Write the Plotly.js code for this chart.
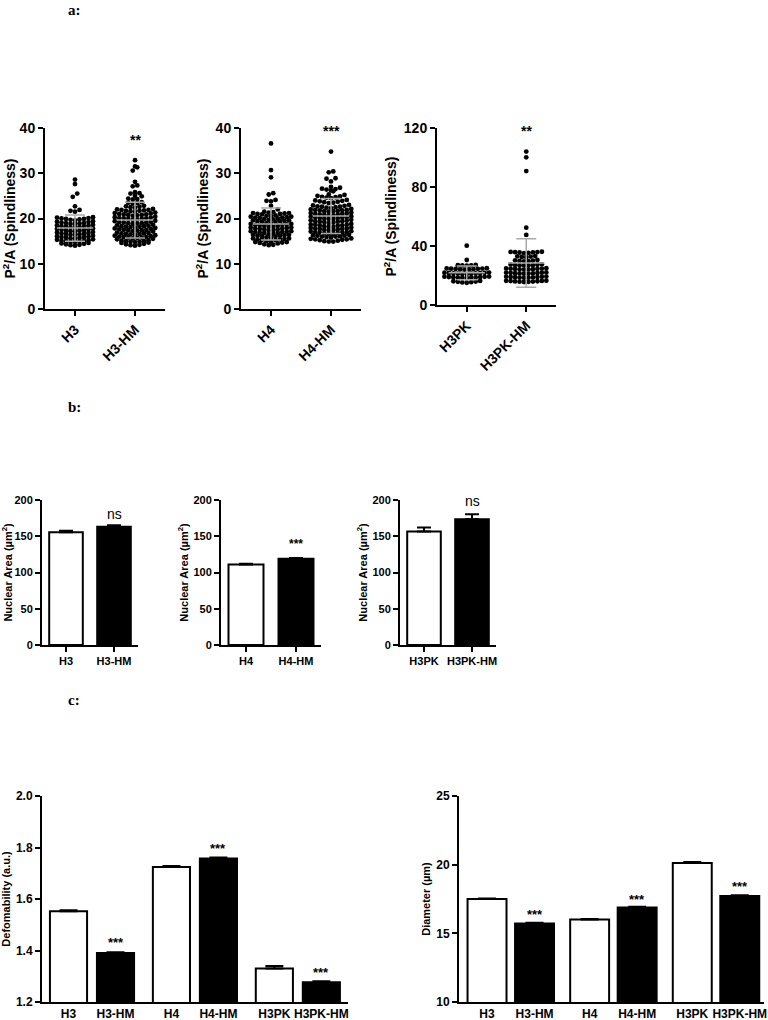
<!DOCTYPE html>
<html>
<head>
<meta charset="utf-8">
<script src="https://cdn.plot.ly/plotly-3.0.1.min.js"></script>
<style>html,body{margin:0;padding:0;background:#fff;}#chart{width:768px;height:1020px;}</style>
</head>
<body>
<div id="chart"></div>
<script>
// ---------------- DATA ----------------
// Panel a: spindliness (P^2/A) per cell
const catA1 = ['H3', 'H3-HM'];
const catA2 = ['H4', 'H4-HM'];
const catA3 = ['H3PK', 'H3PK-HM'];

const spindH3 = [28.6, 27.6, 25.5, 24.8, 22.7, 21.9, 21.7, 21.5,
  20.3, 20.2, 20.1, 20.0, 19.9, 19.9, 19.8, 19.7, 19.6,
  19.4, 19.3, 19.2, 19.1, 19.0, 19.0, 18.9, 18.8, 18.8,
  18.6, 18.5, 18.4, 18.3, 18.2, 18.2, 18.1, 18.0, 18.0,
  17.8, 17.7, 17.6, 17.5, 17.4, 17.4, 17.3, 17.2, 17.2,
  17.0, 16.9, 16.8, 16.7, 16.6, 16.6, 16.5, 16.4, 16.4,
  16.2, 16.1, 16.0, 15.9, 15.8, 15.8, 15.7, 15.6, 15.6,
  15.4, 15.3, 15.2, 15.1, 15.0, 15.0, 14.9, 14.8, 14.8,
  14.6, 14.5, 14.4, 14.3, 14.2, 14.1, 14.0];
const spindH3HM = [32.9, 31.5, 31.3, 30.6, 28.1, 27.3, 27.1, 25.8, 25.6, 25.5, 25.0, 24.9,
  24.4, 24.3, 24.2, 23.6, 23.5, 23.4, 23.3, 22.8, 22.7, 22.6, 22.5, 22.4,
  22.1, 22.0, 21.9, 21.9, 21.8, 21.7, 21.7, 21.6, 21.5,
  21.3, 21.2, 21.1, 21.0, 20.9, 20.9, 20.8, 20.8, 20.7, 20.6,
  20.4, 20.3, 20.2, 20.1, 20.0, 20.0, 19.9, 19.9, 19.8, 19.7,
  19.5, 19.4, 19.3, 19.2, 19.1, 19.1, 19.0, 19.0, 18.9, 18.8,
  18.6, 18.5, 18.4, 18.3, 18.3, 18.2, 18.2, 18.1, 18.0, 17.9,
  17.8, 17.7, 17.6, 17.5, 17.5, 17.4, 17.4, 17.3, 17.2, 17.1,
  16.9, 16.8, 16.7, 16.7, 16.6, 16.6, 16.5, 16.4, 16.3, 16.2,
  16.1, 16.0, 15.9, 15.9, 15.8, 15.8, 15.7, 15.6, 15.5, 15.4,
  15.2, 15.1, 15.0, 15.0, 14.9, 14.9, 14.8, 14.7, 14.6,
  14.4, 14.3, 14.2, 14.1, 14.0];
const spindH4 = [36.6, 30.7, 29.1, 25.6, 25.3, 24.1, 23.9, 23.8, 22.8, 22.0,
  21.5, 21.4, 21.3, 21.2, 21.2, 21.1, 21.0, 21.0, 20.9,
  20.7, 20.6, 20.5, 20.4, 20.4, 20.3, 20.2, 20.2, 20.1, 20.0,
  19.9, 19.8, 19.7, 19.6, 19.6, 19.5, 19.4, 19.4, 19.3, 19.2,
  19.0, 18.9, 18.8, 18.8, 18.7, 18.6, 18.6, 18.5, 18.4, 18.4,
  18.2, 18.1, 18.0, 18.0, 17.9, 17.8, 17.8, 17.7, 17.6, 17.6,
  17.4, 17.3, 17.2, 17.2, 17.1, 17.0, 17.0, 16.9, 16.8, 16.8,
  16.6, 16.5, 16.4, 16.4, 16.3, 16.2, 16.2, 16.1, 16.0,
  15.8, 15.7, 15.6, 15.6, 15.5, 15.4, 15.4, 15.3, 15.2,
  15.0, 14.9, 14.8, 14.8, 14.7, 14.6, 14.5,
  14.3, 14.2, 14.1];
const spindH4HM = [34.8, 30.4, 30.2, 28.9, 28.8, 28.2,
  27.0, 26.8, 26.6, 26.5, 26.4, 26.2, 26.0,
  25.3, 25.2, 25.0, 24.9, 24.8, 24.7, 24.6, 24.5,
  24.1, 24.0, 23.9, 23.8, 23.7, 23.6, 23.5, 23.4,
  23.0, 22.9, 22.8, 22.7, 22.6, 22.6, 22.5, 22.4, 22.3,
  22.1, 22.0, 21.9, 21.9, 21.8, 21.8, 21.7, 21.6, 21.6, 21.5,
  21.3, 21.2, 21.1, 21.0, 21.0, 20.9, 20.9, 20.8, 20.7, 20.7,
  20.5, 20.4, 20.3, 20.2, 20.2, 20.1, 20.1, 20.0, 19.9, 19.9,
  19.7, 19.6, 19.5, 19.4, 19.4, 19.3, 19.3, 19.2, 19.1, 19.0,
  18.8, 18.7, 18.6, 18.6, 18.5, 18.5, 18.4, 18.3, 18.2, 18.2,
  18.0, 17.9, 17.8, 17.8, 17.7, 17.7, 17.6, 17.5, 17.4, 17.4,
  17.2, 17.1, 17.0, 17.0, 16.9, 16.9, 16.8, 16.7, 16.6, 16.6,
  16.4, 16.3, 16.2, 16.2, 16.1, 16.0, 16.0, 15.9, 15.8,
  15.6, 15.5, 15.4, 15.4, 15.3, 15.2, 15.1,
  15.0, 14.9, 14.9];
const spindH3PK = [40.2, 30.5,
  27.2, 27.0, 26.9, 26.8, 26.7,
  24.9, 24.8, 24.7, 24.6, 24.5, 24.4, 24.3, 24.2, 24.1, 24.0,
  22.0, 21.9, 21.8, 21.7, 21.6, 21.5, 21.4, 21.3, 21.2, 21.1, 21.0,
  19.3, 19.2, 19.1, 19.0, 18.9, 18.8, 18.7, 18.6, 18.5, 18.4, 18.3,
  16.3, 16.1, 15.9, 15.7, 15.5, 15.3, 15.1];
const spindH3PKHM = [104.0, 100.1, 90.8, 52.4, 47.5,
  36.1, 36.0, 35.9, 35.8, 35.7, 35.6, 35.4, 35.2,
  33.2, 33.0, 32.8, 32.6, 32.4,
  30.5, 30.3, 30.1, 29.9, 29.7, 29.6,
  27.6, 27.5, 27.3, 27.2, 27.1, 27.0, 26.9, 26.8,
  24.9, 24.8, 24.7, 24.6, 24.5, 24.4, 24.3, 24.2, 24.1, 24.0,
  22.1, 22.0, 21.9, 21.8, 21.7, 21.6, 21.5, 21.4, 21.3, 21.2,
  19.3, 19.2, 19.1, 19.0, 18.9, 18.8, 18.7, 18.6, 18.5, 18.4,
  16.5, 16.4, 16.3, 16.2, 16.1, 16.0, 15.9, 15.8, 15.7, 15.6];
const sigA = ['**', '***', '**'];

// Panel b: nuclear area (µm²), mean and SEM
const catB1 = ['H3', 'H3-HM'];
const catB2 = ['H4', 'H4-HM'];
const catB3 = ['H3PK', 'H3PK-HM'];
const nucB1 = [155.5, 163.0];
const nucErrB1 = [2.2, 2.0];
const nucB2 = [111.0, 119.0];
const nucErrB2 = [1.2, 1.0];
const nucB3 = [156.5, 173.5];
const nucErrB3 = [5.5, 7.0];
const sigB = ['ns', '***', 'ns'];

// Panel c: deformability and diameter
const catC = ['H3', 'H3-HM', 'H4', 'H4-HM', 'H3PK', 'H3PK-HM'];
const deform = [1.552, 1.390, 1.724, 1.757, 1.330, 1.277];
const deformErr = [0.004, 0.003, 0.004, 0.004, 0.010, 0.004];
const diameter = [17.50, 15.72, 16.00, 16.88, 20.12, 17.72];
const diameterErr = [0.04, 0.05, 0.04, 0.06, 0.07, 0.06];
const sigC = ['', '***', '', '***', '', '***'];

// ---------------- HELPERS ----------------
const W = 768, H = 1020;
const dx = (a, b) => [a / W, b / W];
const dy = (t, b) => [1 - b / H, 1 - t / H];
const FONT = 'Arial, "Liberation Sans", Helvetica, sans-serif';
const bold = (size) => ({family: FONT, size: size, color: '#000', weight: 'bold'});

function swarm(vals, center, pxPerY, pxPerX, rowPx, dotPx) {
  const s = vals.slice().sort((a, b) => a - b);
  const rowU = rowPx / pxPerY;
  const rows = []; let cur = null;
  s.forEach(v => {
    if (!cur || v - cur.start >= rowU) { cur = {start: v, vals: []}; rows.push(cur); }
    cur.vals.push(v);
  });
  const xs = [], ys = [];
  rows.forEach(r => {
    const n = r.vals.length, offs = [];
    for (let k = 0; k < n; k++) offs.push(k - (n - 1) / 2);
    offs.sort((a, b) => Math.abs(a) - Math.abs(b) || a - b);
    r.vals.forEach((v, i) => { xs.push(center + offs[i] * dotPx / pxPerX); ys.push(v); });
  });
  return {xs, ys};
}
const mean = a => a.reduce((s, v) => s + v, 0) / a.length;
const sd = a => { const m = mean(a); return Math.sqrt(a.reduce((s, v) => s + (v - m) * (v - m), 0) / (a.length - 1)); };

const axBase = {showline: true, linecolor: '#000', linewidth: 2, ticks: 'outside', ticklen: 5, tickwidth: 2,
  tickcolor: '#000', showgrid: false, zeroline: false, fixedrange: true, automargin: false};

const traces = [];
const annotations = [];

// ---------------- PANEL A ----------------
const aPanels = [
  {cats: catA1, data: [spindH3, spindH3HM], xa: 'x', ya: 'y', pxPerY: 181 / 40, sigY: 37.3},
  {cats: catA2, data: [spindH4, spindH4HM], xa: 'x2', ya: 'y2', pxPerY: 181 / 40, sigY: 39.3},
  {cats: catA3, data: [spindH3PK, spindH3PKHM], xa: 'x3', ya: 'y3', pxPerY: 177 / 120, sigY: 118},
];
aPanels.forEach((p, pi) => {
  p.data.forEach((vals, gi) => {
    const sw = swarm(vals, gi, p.pxPerY, 60, 3.6, 4.5);
    traces.push({type: 'scatter', mode: 'markers', x: sw.xs, y: sw.ys, xaxis: p.xa, yaxis: p.ya,
      marker: {color: '#000', size: 4.8}, hoverinfo: 'skip'});
  });
  traces.push({type: 'scatter', mode: 'markers', x: [0, 1], y: p.data.map(mean), xaxis: p.xa, yaxis: p.ya,
    marker: {symbol: 'line-ew', size: 26, color: '#aaaaaa', line: {color: '#aaaaaa', width: 1.5}},
    error_y: {type: 'data', array: p.data.map(sd), color: '#aaaaaa', thickness: 1.5, width: 10}, hoverinfo: 'skip'});
  annotations.push({xref: p.xa, yref: p.ya, x: 1, y: p.sigY, text: sigA[pi],
    showarrow: false, font: bold(14), yanchor: 'middle'});
});

// ---------------- PANEL B ----------------
const bPanels = [
  {cats: catB1, v: nucB1, e: nucErrB1, xa: 'x4', ya: 'y4', sigY: 181},
  {cats: catB2, v: nucB2, e: nucErrB2, xa: 'x5', ya: 'y5', sigY: 140},
  {cats: catB3, v: nucB3, e: nucErrB3, xa: 'x6', ya: 'y6', sigY: 199},
];
bPanels.forEach((p, pi) => {
  traces.push({type: 'bar', x: p.cats, y: p.v, xaxis: p.xa, yaxis: p.ya, width: 0.7,
    marker: {color: ['#fff', '#000'], line: {color: '#000', width: 2}},
    error_y: {type: 'data', symmetric: false, array: p.e, arrayminus: p.e.map(() => 0), color: '#000', thickness: 2, width: 7},
    hoverinfo: 'skip'});
  const isNs = sigB[pi] === 'ns';
  annotations.push({xref: p.xa, yref: p.ya, x: 1, y: p.sigY, text: sigB[pi], showarrow: false,
    font: isNs ? {family: FONT, size: 14, color: '#000'} : bold(12), yanchor: 'middle'});
});

// ---------------- PANEL C ----------------
const posC1 = catC.map((c, i) => i + Math.floor(i / 2) * 0.19);
const posC2 = catC.map((c, i) => i + Math.floor(i / 2) * 0.16);
const fillC = catC.map((c, i) => i % 2 ? '#000' : '#fff');
traces.push({type: 'bar', x: posC1, y: deform, xaxis: 'x7', yaxis: 'y7', width: 0.79,
  marker: {color: fillC, line: {color: '#000', width: 2}},
  error_y: {type: 'data', symmetric: false, array: deformErr, arrayminus: deformErr.map(() => 0), color: '#000', thickness: 2, width: 9},
  hoverinfo: 'skip'});
traces.push({type: 'bar', x: posC2, y: diameter, xaxis: 'x8', yaxis: 'y8', width: 0.82,
  marker: {color: fillC, line: {color: '#000', width: 2}},
  error_y: {type: 'data', symmetric: false, array: diameterErr, arrayminus: diameterErr.map(() => 0), color: '#000', thickness: 2, width: 9},
  hoverinfo: 'skip'});
const sigYC1 = [0, 1.430, 0, 1.797, 0, 1.315];
const sigYC2 = [0, 16.4, 0, 17.5, 0, 18.4];
catC.forEach((c, i) => {
  if (!sigC[i]) return;
  annotations.push({xref: 'x7', yref: 'y7', x: posC1[i], y: sigYC1[i], text: sigC[i], showarrow: false, font: bold(13), yanchor: 'middle'});
  annotations.push({xref: 'x8', yref: 'y8', x: posC2[i], y: sigYC2[i], text: sigC[i], showarrow: false, font: bold(13), yanchor: 'middle'});
});

// Panel letters
[['a:', 10], ['b:', 407], ['c:', 700]].forEach(([t, y]) => {
  annotations.push({xref: 'paper', yref: 'paper', x: 66 / W, y: 1 - y / H, xanchor: 'left', yanchor: 'middle',
    text: t, showarrow: false, font: {family: '"Liberation Serif", "Times New Roman", serif', size: 15, color: '#000', weight: 'bold'}});
});

// ---------------- LAYOUT ----------------
const spTitle = 'P<sup>2</sup>/A (Spindliness)';
const nucTitle = 'Nuclear Area (µm<sup>2</sup>)';
function xA(dom, anchor, cats) {
  return Object.assign({}, axBase, {domain: dom, anchor: anchor, range: [-0.5, 1.5], tickvals: [0, 1], ticktext: cats,
    tickangle: -45, tickfont: bold(14)});
}
function yA(dom, anchor, range, dtick, title, tsize, fsize, standoff) {
  return Object.assign({}, axBase, {domain: dom, anchor: anchor, range: range, dtick: dtick, tick0: range[0],
    tickfont: bold(fsize), title: {text: title, font: bold(tsize), standoff: standoff}});
}
const layout = {
  width: W, height: H, margin: {l: 0, r: 0, t: 0, b: 0}, showlegend: false,
  paper_bgcolor: '#fff', plot_bgcolor: 'rgba(0,0,0,0)', bargap: 0,
  xaxis: xA(dx(45, 165), 'y', catA1),
  yaxis: yA(dy(128, 309), 'x', [0, 40], 10, spTitle, 14, 14, 4),
  xaxis2: xA(dx(241, 361), 'y2', catA2),
  yaxis2: yA(dy(128, 309), 'x2', [0, 40], 10, spTitle, 14, 14, 4),
  xaxis3: xA(dx(437, 556), 'y3', catA3),
  yaxis3: yA(dy(128, 305), 'x3', [0, 120], 40, spTitle, 14, 14, 4),
  xaxis4: Object.assign({}, axBase, {domain: dx(42, 138), anchor: 'y4', range: [-0.5, 1.5], type: 'category', tickfont: bold(11)}),
  yaxis4: yA(dy(500, 645), 'x4', [0, 200], 50, nucTitle, 11, 11, 3),
  xaxis5: Object.assign({}, axBase, {domain: dx(221, 321), anchor: 'y5', range: [-0.5, 1.5], type: 'category', tickfont: bold(11)}),
  yaxis5: yA(dy(500, 645), 'x5', [0, 200], 50, nucTitle, 11, 11, 3),
  xaxis6: Object.assign({}, axBase, {domain: dx(400, 496), anchor: 'y6', range: [-0.5, 1.5], type: 'category', tickfont: bold(11)}),
  yaxis6: yA(dy(500, 645), 'x6', [0, 200], 50, nucTitle, 11, 11, 3),
  xaxis7: Object.assign({}, axBase, {domain: dx(42, 348), anchor: 'y7', range: [-0.564, 5.947], tickvals: posC1, ticktext: catC,
    ticks: '', tickfont: bold(12)}),
  yaxis7: yA(dy(796, 1002), 'x7', [1.2, 2.0], 0.2, 'Defomability (a.u.)', 11, 12, 3),
  xaxis8: Object.assign({}, axBase, {domain: dx(459, 764), anchor: 'y8', range: [-0.59, 5.83], tickvals: posC2, ticktext: catC,
    ticks: '', tickfont: bold(12)}),
  yaxis8: yA(dy(796, 1002), 'x8', [10, 25], 5, 'Diameter (µm)', 11, 12, 3),
  annotations: annotations
};
layout.yaxis7.tickformat = '.1f';

Plotly.newPlot('chart', traces, layout, {staticPlot: true, displayModeBar: false});
</script>
</body>
</html>
